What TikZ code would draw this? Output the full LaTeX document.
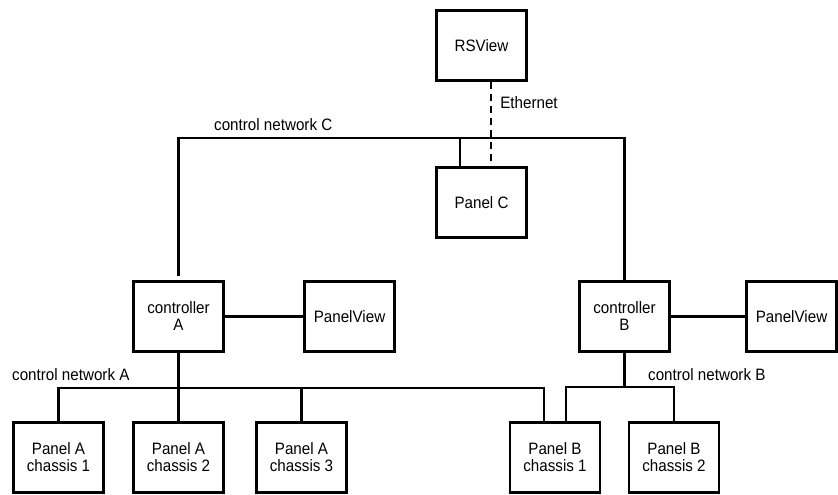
\documentclass[tikz,border=0pt]{standalone}
\usepackage{fontspec}
\setmainfont{Liberation Sans}[FakeStretch=0.92]
\begin{document}
\begin{tikzpicture}[
  x=1pt, y=-1pt,
  box/.style={draw, line width=2.6pt, align=center, minimum width=90pt, minimum height=70.5pt, inner sep=2pt, font=\fontsize{16.5}{17}\selectfont},
  lbl/.style={anchor=west, inner sep=0pt, font=\fontsize{16.5}{17}\selectfont},
  wire/.style={line width=2.6pt}
]
\useasboundingbox (0,0) rectangle (838,495);
\node[box] (rsview) at (481.5,45.5) {RSView};
\node[box] (panelc) at (481.5,202.5) {Panel C};
\node[box] (ctrla) at (178.5,316.5) {controller\\A};
\node[box] (viewa) at (349.5,316.5) {PanelView};
\node[box] (ctrlb) at (624.5,316.5) {controller\\B};
\node[box] (viewb) at (791.5,316.5) {PanelView};
\node[box] (pa1) at (58.5,457.5) {Panel A\\chassis 1};
\node[box] (pa2) at (178.5,457.5) {Panel A\\chassis 2};
\node[box] (pa3) at (301.5,457.5) {Panel A\\chassis 3};
\node[box] (pb1) at (555,457.5) {Panel B\\chassis 1};
\node[box] (pb2) at (674,457.5) {Panel B\\chassis 2};
\node[lbl] (netclbl) at (214,125) {control network C};
\node[lbl] (netalbl) at (12,375) {control network A};
\node[lbl] (netblbl) at (648,375) {control network B};
\coordinate (busc) at (400,138);
\coordinate (busa) at (300,388);
\coordinate (busb) at (620,387);
\path ([xshift=-21.5pt]panelc.north) coordinate (tapc);
\path ([xshift=-11pt]pb1.north) coordinate (tapa);
\path ([xshift=11pt]pb1.north) coordinate (tapb);
\draw[wire, shorten <=4pt] (ctrla.north) |- (busc) -| (ctrlb.north);
\draw[wire] (tapc) -- (tapc |- busc);
\draw[wire, dash pattern=on 7pt off 5pt] ([xshift=9.5pt]rsview.south) -- node[lbl, pos=0.25, xshift=8pt] (ethlbl) {Ethernet} ([xshift=9.5pt]panelc.north);
\draw[wire] (ctrla) -- (viewa);
\draw[wire] (ctrlb) -- (viewb);
\draw[wire] (ctrla.south) -- (pa2.north);
\draw[wire] (pa1.north) |- (tapa |- busa) -- (tapa);
\draw[wire] (pa3.north) -- (pa3.north |- busa);
\draw[wire] (ctrlb.south) -- (ctrlb.south |- busb);
\draw[wire] (tapb) |- (busb) -| (pb2.north);
\end{tikzpicture}
\end{document}
